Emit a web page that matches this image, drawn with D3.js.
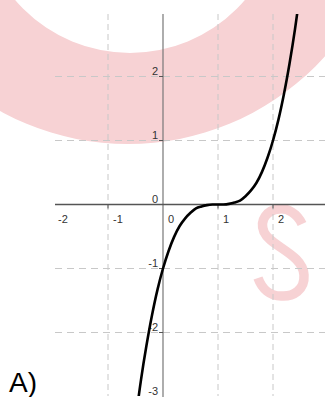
<!DOCTYPE html>
<html>
<head>
<meta charset="utf-8">
<script src="https://cdn.jsdelivr.net/npm/d3@7"></script>
<style>
  html, body { margin: 0; padding: 0; background: #fff; }
  svg { display: block; }
</style>
</head>
<body>
<div class="chart"></div>
<script>
// values
const xTicks = [-2, -1, 0, 1, 2];
const yTicks = [-3, -2, -1, 0, 1, 2];
const curveX = [-0.5, -0.4, -0.3, -0.2, -0.1, 0, 0.1, 0.2, 0.3, 0.4, 0.5, 0.6, 0.7, 0.8, 0.9, 1.0,
                1.1, 1.2, 1.3, 1.4, 1.5, 1.6, 1.7, 1.8, 1.9, 2.0, 2.1, 2.2, 2.3, 2.4, 2.5];
const curveY = [-3.38, -2.74, -2.2, -1.73, -1.33, -1.0, -0.73, -0.51, -0.34, -0.22, -0.13, -0.06, -0.03, -0.01, 0, 0,
                0, 0.01, 0.03, 0.06, 0.13, 0.22, 0.34, 0.51, 0.73, 1.0, 1.33, 1.73, 2.2, 2.74, 3.38];
const panelLabel = 'A)';

const width = 325;
const height = 397;
const plot = { left: 55, right: 325, top: 14, bottom: 396 };

const svg = d3.select('.chart')
    .append('svg')
    .attr('width', width)
    .attr('height', height);

// watermark
const pink = '#f7d2d4';
svg.append('path')
    .attr('d', () => {
        const ring = d3.path();
        ring.arc(128, -121, 265, 0, Math.PI * 2);
        ring.moveTo(130 + 151, -98);
        ring.arc(130, -98, 151, 0, Math.PI * 2);
        return ring.toString();
    })
    .attr('fill', pink)
    .attr('fill-rule', 'evenodd');

svg.append('path')
    .attr('d', 'M302,224 C297,213 287,208 279,209 C267,210 259,220 264,232 C270,246 303,254 304,275 C305,290 293,297 281,296 C270,296 262,289 258,278')
    .attr('fill', 'none')
    .attr('stroke', pink)
    .attr('stroke-width', 9.5)
    .attr('stroke-linecap', 'butt');

// scales
const xScale = d3.scaleLinear().domain([-2, 3]).range([53, 328]);
const yScale = d3.scaleLinear().domain([-3, 3]).range([396.5, 12.5]);

svg.append('clipPath')
    .attr('id', 'plot-clip')
    .append('rect')
    .attr('x', plot.left)
    .attr('y', plot.top)
    .attr('width', plot.right - plot.left)
    .attr('height', plot.bottom - plot.top);

const gridGroup = svg.append('g').attr('clip-path', 'url(#plot-clip)');

// grid
gridGroup.selectAll('.vgrid')
    .data(xTicks.filter(d => d !== 0))
    .enter()
    .append('line')
    .attr('class', 'vgrid')
    .attr('x1', d => xScale(d))
    .attr('x2', d => xScale(d))
    .attr('y1', plot.top)
    .attr('y2', height)
    .style('stroke', '#c8c8c8')
    .style('stroke-dasharray', '6,4');

gridGroup.selectAll('.hgrid')
    .data(yTicks.filter(d => d !== 0))
    .enter()
    .append('line')
    .attr('class', 'hgrid')
    .attr('x1', plot.left)
    .attr('x2', plot.right)
    .attr('y1', d => yScale(d))
    .attr('y2', d => yScale(d))
    .style('stroke', '#c8c8c8')
    .style('stroke-dasharray', '7,5');

// axes
const x0 = xScale(0);
const y0 = yScale(0);

svg.append('line')
    .attr('x1', x0).attr('x2', x0)
    .attr('y1', plot.top).attr('y2', height)
    .style('stroke', '#777')
    .style('stroke-width', 1.2);

svg.append('line')
    .attr('x1', plot.left).attr('x2', plot.right)
    .attr('y1', y0).attr('y2', y0)
    .style('stroke', '#555')
    .style('stroke-width', 1.6);

const tickFont = 'Liberation Sans, Arial, sans-serif';

// x tick marks + labels
svg.selectAll('.xtick')
    .data(xTicks.filter(d => d !== 0 && xScale(d) > plot.left))
    .enter()
    .append('line')
    .attr('x1', d => xScale(d)).attr('x2', d => xScale(d))
    .attr('y1', y0).attr('y2', y0 + 4)
    .style('stroke', '#555');

svg.selectAll('.xlabel')
    .data(xTicks)
    .enter()
    .append('text')
    .attr('x', d => Math.max(xScale(d) + 5, plot.left + 3))
    .attr('y', y0 + 18)
    .attr('font-family', tickFont)
    .attr('font-size', 11)
    .attr('fill', '#333')
    .text(d => d);

// y tick marks + labels
svg.selectAll('.ytick')
    .data(yTicks.filter(d => d !== 0 && yScale(d) < plot.bottom))
    .enter()
    .append('line')
    .attr('x1', x0 - 4).attr('x2', x0)
    .attr('y1', d => yScale(d)).attr('y2', d => yScale(d))
    .style('stroke', '#555');

svg.selectAll('.ylabel')
    .data(yTicks)
    .enter()
    .append('text')
    .attr('x', x0 - 5)
    .attr('y', d => yScale(d) - 2)
    .attr('text-anchor', 'end')
    .attr('font-family', tickFont)
    .attr('font-size', 11)
    .attr('fill', '#333')
    .text(d => d);

// curve
const points = curveX.map((x, i) => ({ x, y: curveY[i] }));
const lineGen = d3.line()
    .x(d => xScale(d.x))
    .y(d => yScale(d.y))
    .curve(d3.curveCatmullRom);

svg.append('g')
    .append('path')
    .attr('clip-path', 'url(#plot-clip)')
    .attr('d', lineGen(points))
    .style('fill', 'none')
    .style('stroke', '#000')
    .style('stroke-width', 2.6);

// panel label
svg.append('text')
    .attr('x', 9)
    .attr('y', 392)
    .attr('font-family', tickFont)
    .attr('font-size', 28)
    .attr('fill', '#000')
    .text(panelLabel);
</script>
</body>
</html>
